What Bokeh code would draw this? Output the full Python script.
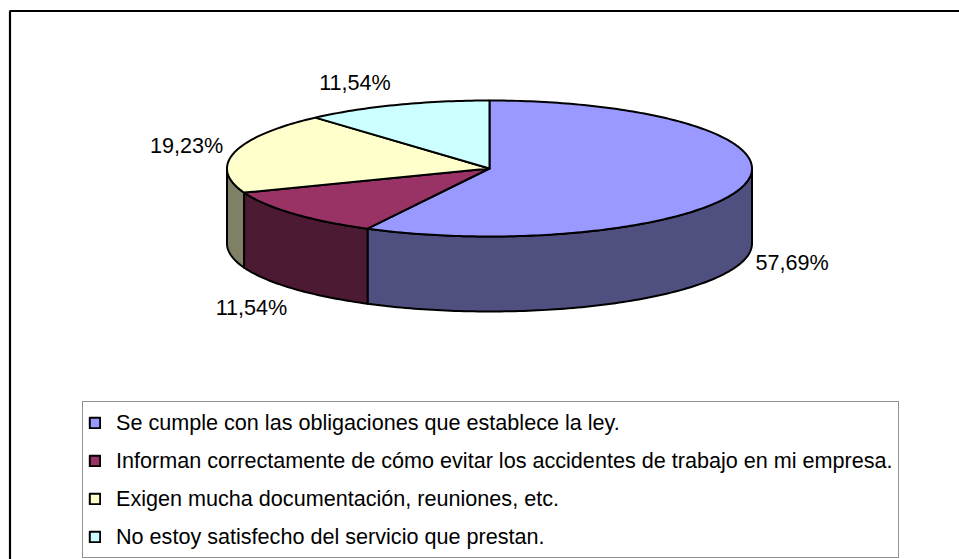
import math
from bokeh.plotting import figure
from bokeh.models import Legend, LegendItem
from bokeh.core.properties import value
from bokeh.embed import file_html
from bokeh.resources import INLINE

categories = [
    "Se cumple con las obligaciones que establece la ley.",
    "Informan correctamente de cómo evitar los accidentes de trabajo en mi empresa.",
    "Exigen mucha documentación, reuniones, etc.",
    "No estoy satisfecho del servicio que prestan.",
]
percentages = [57.69, 11.54, 19.23, 11.54]
top_colors = ["#9999FF", "#993366", "#FFFFCC", "#CCFFFF"]
side_colors = ["#4F4F80", "#4D1A33", "#808066", "#668080"]

CX, CY, RX, RY, DEPTH = 489, 168, 262.5, 68, 75
FONT = "Liberation Sans"
SIZE = "21.6px"


def rim(a0, a1, dy=0, step=1.0):
    n = max(2, int(abs(a1 - a0) / step) + 1)
    xs, ys = [], []
    for i in range(n):
        a = math.radians(a0 + (a1 - a0) * i / (n - 1))
        xs.append(CX + RX * math.sin(a))
        ys.append(CY + dy - RY * math.cos(a))
    return xs, ys


p = figure(width=959, height=559, x_range=(0, 959), y_range=(559, 0),
           output_backend="svg", toolbar_location=None, min_border=0,
           background_fill_color="white", border_fill_color="white")
p.axis.visible = False
p.grid.visible = False
p.outline_line_color = None

p.line([9.5, 9.5, 959], [559, 10.5, 10.5], line_color="black", line_width=2.2)

total = sum(percentages)
bounds = [0.0]
for v in percentages:
    bounds.append(bounds[-1] + v / total * 360)

for i, col in enumerate(side_colors):
    a0, a1 = max(bounds[i], 90), min(bounds[i + 1], 270)
    if a1 <= a0:
        continue
    tx, ty = rim(a0, a1)
    bx, by = rim(a1, a0, DEPTH)
    p.patch(tx + bx, ty + by, fill_color=col, line_color="black", line_width=2,
            line_join="round")

items = []
for i, col in enumerate(top_colors):
    tx, ty = rim(bounds[i], bounds[i + 1])
    r = p.patch([CX] + tx, [CY] + ty, fill_color=col, line_color="black",
                line_width=2, line_join="round")
    items.append(LegendItem(label=categories[i], renderers=[r]))

label_x = [791.5, 251, 186, 354.5]
label_y = [262, 307, 145, 82]
labels = [f"{v:.2f}%".replace(".", ",") for v in percentages]
p.text(label_x, label_y, text=labels, text_font=value(FONT), text_font_size=value(SIZE),
       text_align="center", text_baseline="middle", text_color="black")

legend = Legend(items=items, location=(82, 1), orientation="vertical",
                glyph_width=13, glyph_height=13, label_height=31, spacing=7,
                padding=5, margin=0, label_standoff=15,
                label_text_font=FONT, label_text_font_size=SIZE, label_text_color="black",
                label_text_line_height=1.0,
                border_line_color="#222222", border_line_width=1,
                background_fill_color="white", background_fill_alpha=1.0)
p.add_layout(legend, "center")

open("out.html", "w").write(file_html(p, INLINE))
